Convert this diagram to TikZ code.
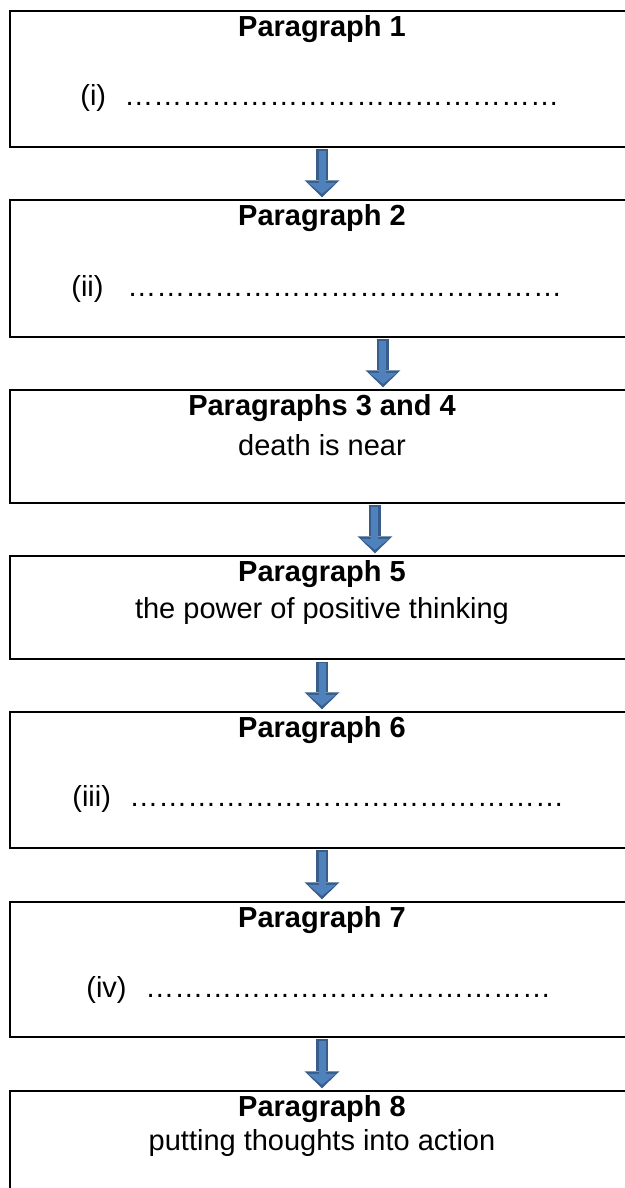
\documentclass[tikz,border=0pt]{standalone}
\usepackage{fontspec}
\setmainfont{Liberation Sans}
\usetikzlibrary{arrows.meta}
\definecolor{arrowedge}{RGB}{56,93,138}
\definecolor{arrowfill}{RGB}{79,129,189}
\newcommand{\gapdots}[1]{\foreach \k in {1,...,#1}{…}}

\begin{document}
\begin{tikzpicture}[x=0.02cm, y=-0.02cm,
	parabox/.style={draw, line width=0.05cm, minimum width=12.48cm, inner sep=0pt},
	headtxt/.style={font=\fontsize{16.5}{20}\selectfont\bfseries, anchor=base, inner sep=0pt},
	bodytxt/.style={font=\fontsize{16.5}{20}\selectfont, inner sep=0pt},
	flowarrow/.style={draw=arrowedge, line width=0.24cm, shorten <=0.025cm, shorten >=0.03cm,
		-{Triangle[width=0.7cm, length=0.34cm, line width=0pt]}},
	flowinner/.style={draw=arrowfill, line width=0.14cm, shorten <=0.05cm, shorten >=0.1cm,
		-{Triangle[width=0.56cm, length=0.22cm, line width=0pt]}}]
			%%%%% START %%%%%
			\clip (0, 0) rectangle (625, 1188);
			
			% boxes
			\node[parabox, minimum height=2.72cm] (p1) at (322, 79) {};
			\node[parabox, minimum height=2.74cm] (p2) at (322, 268.5) {};
			\node[parabox, minimum height=2.26cm] (p3) at (322, 446.5) {};
			\node[parabox, minimum height=2.06cm] (p5) at (322, 607.5) {};
			\node[parabox, minimum height=2.72cm] (p6) at (322, 780) {};
			\node[parabox, minimum height=2.70cm] (p7) at (322, 969.5) {};
			\node[parabox, minimum height=2.72cm] (p8) at (322, 1159) {};
			
			% headings
			\node[headtxt] (p1h) at ([yshift=-0.53cm]p1.north) {Paragraph 1};
			\node[headtxt] (p2h) at ([yshift=-0.53cm]p2.north) {Paragraph 2};
			\node[headtxt] (p3h) at ([yshift=-0.53cm]p3.north) {Paragraphs 3 and 4};
			\node[headtxt] (p5h) at ([yshift=-0.53cm]p5.north) {Paragraph 5};
			\node[headtxt] (p6h) at ([yshift=-0.53cm]p6.north) {Paragraph 6};
			\node[headtxt] (p7h) at ([yshift=-0.53cm]p7.north) {Paragraph 7};
			\node[headtxt] (p8h) at ([yshift=-0.53cm]p8.north) {Paragraph 8};
			
			% given answers
			\node[bodytxt, anchor=base] (p3t) at ([yshift=-1.34cm]p3.north) {death is near};
			\node[bodytxt, anchor=base] (p5t) at ([yshift=-1.28cm]p5.north) {the power of positive thinking};
			\node[bodytxt, anchor=base] (p8t) at ([yshift=-1.22cm]p8.north) {putting thoughts into action};
			
			% blanks
			\node[bodytxt, anchor=base west] (p1n) at (80, 105) {(i)};
			\node[bodytxt, anchor=base west] (p1d) at (124, 105) {\gapdots{15}};
			\node[bodytxt, anchor=base west] (p2n) at (71, 296) {(ii)};
			\node[bodytxt, anchor=base west] (p2d) at (127, 296) {\gapdots{15}};
			\node[bodytxt, anchor=base west] (p6n) at (72, 806) {(iii)};
			\node[bodytxt, anchor=base west] (p6d) at (129, 806) {\gapdots{15}};
			\node[bodytxt, anchor=base west] (p7n) at (86, 997) {(iv)};
			\node[bodytxt, anchor=base west] (p7d) at (145, 997) {\gapdots{14}};
			
			% arrows
			\foreach \a/\b/\s in {p1/p2/0, p2/p3/1.22, p3/p5/1.06, p5/p6/0, p6/p7/0, p7/p8/0} {
				\draw[flowarrow] ([xshift=\s cm]\a.south) -- ([xshift=\s cm]\b.north);
				\draw[flowinner] ([xshift=\s cm]\a.south) -- ([xshift=\s cm]\b.north);
			}
			%%%%% END %%%%%
\end{tikzpicture}
\end{document}
